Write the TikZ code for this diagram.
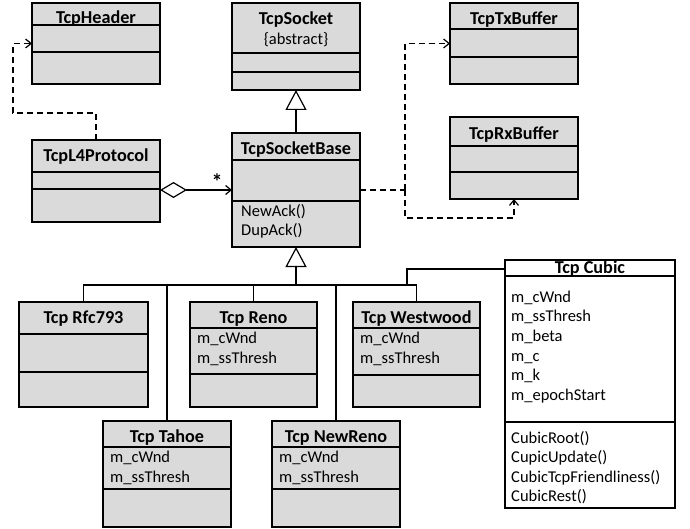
\documentclass[tikz,border=0pt]{standalone}
\usepackage{fontspec}
\setmainfont{Carlito}
\usetikzlibrary{arrows.meta}
\definecolor{boxgray}{RGB}{218,218,218}
\newcommand{\umlcls}[8]{%
  \node[clsbox,#8,minimum width=#4pt,minimum height=#5pt] (#1) at (#2,#3) {};
  \draw[divline] (#2,#6) -- ++(#4,0);
  \draw[divline] (#2,#7) -- ++(#4,0);
}
\begin{document}
\begin{tikzpicture}[x=1pt,y=-1pt,
  clsbox/.style={draw,line width=2pt,fill=boxgray,anchor=north west,inner sep=0pt,outer sep=0pt},
  whitebox/.style={line width=1.4pt,fill=white},
  divline/.style={line width=1.2pt},
  ttl/.style={anchor=base,inner sep=0pt,font=\fontsize{18.2}{20}\selectfont\bfseries},
  txt/.style={anchor=base west,inner sep=0pt,font=\fontsize{16.5}{20}\selectfont},
  ctxt/.style={anchor=base,inner sep=0pt,font=\fontsize{16.5}{20}\selectfont},
  conn/.style={line width=1.2pt},
  dep/.style={line width=1.2pt,dash pattern=on 6pt off 4pt,-{Straight Barb[length=5.5pt,width=9pt]}},
  depline/.style={line width=1.2pt,dash pattern=on 6pt off 4pt},
  inh/.style={line width=1.2pt,-{Triangle[open,fill=white,length=20pt,width=21pt]}},
  agg/.style={line width=1.2pt,{Diamond[open,fill=white,length=27pt,width=16pt]}-{Straight Barb[length=5.5pt,width=9pt]}}
]
\useasboundingbox (0,0) rectangle (690,529);

% classes
\umlcls{header}{32}{3}{128}{81}{25}{52}{}
\umlcls{socket}{232}{3}{128}{87}{53}{72}{}
\umlcls{txbuf}{450}{3}{128}{81}{29}{57}{}
\umlcls{rxbuf}{450}{117}{128}{82}{146}{172}{}
\umlcls{l4}{32}{140}{128}{82}{172}{189}{}
\umlcls{sbase}{232}{133}{128}{114}{160}{201}{}
\umlcls{rfc}{19}{302}{129}{105}{334}{372}{}
\umlcls{reno}{190}{302}{127}{105}{328}{374}{}
\umlcls{westwood}{353}{302}{127}{105}{328}{375}{}
\umlcls{tahoe}{103}{421}{128}{106}{447}{489}{}
\umlcls{newreno}{272}{421}{128}{106}{447}{489}{}
\umlcls{cubic}{505}{260}{170}{248}{276}{422}{whitebox}

% texts
\node[ttl] (header-t) at (96,24) {TcpHeader};
\node[ttl] (socket-t) at (296,25) {TcpSocket};
\node[ctxt] (socket-a) at (296,45) {\{abstract\}};
\node[ttl] (txbuf-t) at (514,25) {TcpTxBuffer};
\node[ttl] (rxbuf-t) at (514,140) {TcpRxBuffer};
\node[ttl] (l4-t) at (96,162) {TcpL4Protocol};
\node[ttl] (sbase-t) at (296,155) {TcpSocketBase};
\node[txt] (sbase-m1) at (241,217) {NewAck()};
\node[txt] (sbase-m2) at (241,236) {DupAck()};
\node[ttl] (rfc-t) at (83.5,323) {Tcp Rfc793};
\node[ttl] (reno-t) at (253.5,323) {Tcp Reno};
\node[txt] (reno-a1) at (197,343) {m\_cWnd};
\node[txt] (reno-a2) at (197,363) {m\_ssThresh};
\node[ttl] (west-t) at (416.5,323) {Tcp Westwood};
\node[txt] (west-a1) at (360,343) {m\_cWnd};
\node[txt] (west-a2) at (360,363) {m\_ssThresh};
\node[ttl] (tahoe-t) at (167,442) {Tcp Tahoe};
\node[txt] (tahoe-a1) at (110,462) {m\_cWnd};
\node[txt] (tahoe-a2) at (110,482) {m\_ssThresh};
\node[ttl] (newreno-t) at (336,442) {Tcp NewReno};
\node[txt] (newreno-a1) at (279,462) {m\_cWnd};
\node[txt] (newreno-a2) at (279,482) {m\_ssThresh};
\node[ttl] (cubic-t) at (590,273) {Tcp Cubic};
\node[txt] (cubic-a1) at (511,302) {m\_cWnd};
\node[txt] (cubic-a2) at (511,321.5) {m\_ssThresh};
\node[txt] (cubic-a3) at (511,341) {m\_beta};
\node[txt] (cubic-a4) at (511,361) {m\_c};
\node[txt] (cubic-a5) at (511,380.5) {m\_k};
\node[txt] (cubic-a6) at (511,400) {m\_epochStart};
\node[txt] (cubic-m1) at (511,443) {CubicRoot()};
\node[txt] (cubic-m2) at (511,462.5) {CupicUpdate()};
\node[txt] (cubic-m3) at (511,482) {CubicTcpFriendliness()};
\node[txt] (cubic-m4) at (511,501.5) {CubicRest()};

% connectors
\coordinate (aggy) at (0,190);
\coordinate (jn) at (405,190);
\coordinate (bus) at (296,285);
\coordinate (cuby) at (0,269);

\draw[dep] (l4.north) |- (13,113) |- (header.west);
\draw[agg] (l4.east |- aggy) -- (sbase.west |- aggy);
\node[ttl,anchor=base,font=\fontsize{22}{22}\selectfont\bfseries] (star) at (217,190) {*};
\draw[inh] (sbase.north) -- (socket.south);
\draw[depline] (sbase.east |- aggy) -- (jn);
\draw[dep] (jn) |- (txbuf.west);
\draw[dep] (jn) |- (rxbuf.south |- 0,218) -- (rxbuf.south);
\draw[inh] (bus) -- (sbase.south);
\draw[conn] (rfc.north) |- (westwood.north |- bus) -- (westwood.north);
\draw[conn] (tahoe.north) -- (tahoe.north |- bus);
\draw[conn] (reno.north) -- (reno.north |- bus);
\draw[conn] (newreno.north) -- (newreno.north |- bus);
\draw[conn] (cubic.west |- cuby) -| (407,285);
\end{tikzpicture}
\end{document}
